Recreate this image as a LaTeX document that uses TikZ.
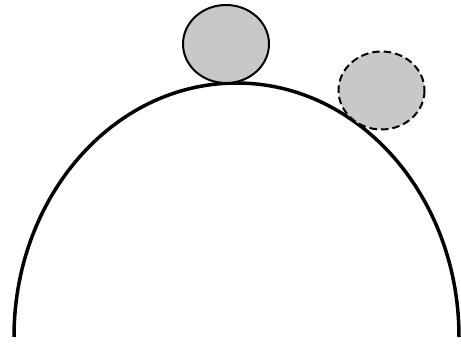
\documentclass[tikz,border=0pt]{standalone}
\begin{document}
\begin{tikzpicture}[x=1pt,y=-1pt,
  ball/.style={draw=black,fill={rgb,255:red,200;green,200;blue,200},line width=2pt},
  ghost/.style={ball,dash pattern=on 7.5pt off 4pt},
  hill/.style={draw=black,line width=3.5pt}]
\useasboundingbox (0,0) rectangle (461,347);
\draw[hill] (14,337) arc[start angle=180,end angle=360,x radius=222.5,y radius=254];
\draw[ball] (226,44) ellipse[x radius=43,y radius=39];
\draw[ghost] (381.5,90.5) ellipse[x radius=43,y radius=39];
\end{tikzpicture}
\end{document}
